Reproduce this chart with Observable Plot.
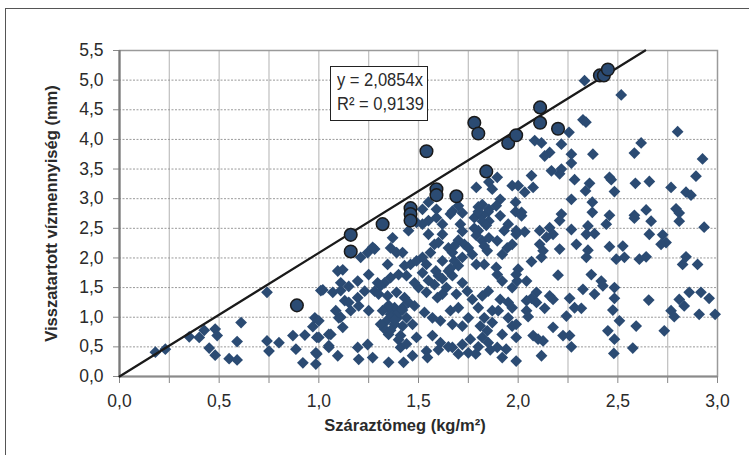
<!DOCTYPE html>
<html><head><meta charset="utf-8">
<script src="https://cdn.jsdelivr.net/npm/d3@7"></script>
<script src="https://cdn.jsdelivr.net/npm/@observablehq/plot@0.6"></script>
<style>
html,body{margin:0;padding:0;background:#fff;overflow:hidden;}
#wrap{position:relative;width:749px;height:455px;font-family:"Liberation Sans",Arial,sans-serif;color:#333;}
#frame{position:absolute;left:5px;top:8px;width:800px;height:500px;border-left:1.5px solid #555;border-top:1.5px solid #555;}
#eq{position:absolute;left:330px;top:66px;width:98px;height:55px;border:1.5px solid #222;background:#fff;box-sizing:border-box;color:#2a2a2a;white-space:nowrap;}
#eq span{position:absolute;left:6px;display:block;font-size:19px;transform:scaleX(0.87);transform-origin:left center;}
#xt{position:absolute;left:0;width:810px;top:416px;text-align:center;font-weight:bold;font-size:16.5px;color:#2a2a2a;}
</style></head>
<body><div id="wrap"><div id="frame"></div></div>
<script>
const slope = 2.0854;
const eqText = ["y = 2,0854x", "R² = 0,9139"];
const xTitle = "Száraztömeg (kg/m²)";
const yTitle = "Visszatartott vízmennyiség (mm)";
const xTicks = [0, 0.5, 1.0, 1.5, 2.0, 2.5, 3.0];
const xGrid = [0.25, 0.5, 0.75, 1.0, 1.25, 1.5, 1.75, 2.0, 2.25, 2.5, 2.75];
const xMinor = [0, 0.25, 0.5, 0.75, 1.0, 1.25, 1.5, 1.75, 2.0, 2.25, 2.5, 2.75, 3.0];
const yTicks = [0, 0.5, 1.0, 1.5, 2.0, 2.5, 3.0, 3.5, 4.0, 4.5, 5.0, 5.5];

const circled = [
[0.89,1.20],[1.16,2.39],[1.16,2.11],[1.32,2.57],[1.46,2.84],[1.46,2.74],[1.46,2.63],
[1.54,3.80],[1.59,3.16],[1.59,3.06],[1.69,3.04],[1.78,4.28],[1.80,4.10],[1.84,3.46],
[1.95,3.94],[1.99,4.07],[2.11,4.54],[2.11,4.28],[2.20,4.18],[2.41,5.08],[2.43,5.08],[2.45,5.18]
];

const diamonds = [
[0.18,0.41],[0.23,0.46],[0.35,0.67],[0.40,0.66],[0.425,0.78],[0.45,0.48],[0.48,0.80],[0.49,0.69],
[0.48,0.36],[0.55,0.30],[0.59,0.28],[0.59,0.59],[0.61,0.91],[0.74,1.42],[0.74,0.60],[0.75,0.43],
[0.80,0.57],[0.87,0.69],[0.885,0.46],[0.92,0.23],[0.93,0.70],[0.97,0.84],[0.98,0.99],[0.99,0.66],
[0.985,0.40],[0.985,0.21],[1.01,1.45],[1.05,0.49],[1.06,0.71],[1.11,1.00],[1.13,1.28],[1.11,1.45],
[1.02,1.46],[1.095,1.78],[1.12,1.80],[1.11,1.58],[1.15,1.52],[1.195,1.61],[1.21,2.01],[1.245,2.09],
[1.28,2.15],[1.25,1.72],[1.295,1.58],[1.33,1.58],[1.345,1.89],[1.37,2.34],[1.36,2.17],[1.39,2.09],
[1.42,2.09],[1.43,1.87],[1.46,1.89],[1.45,2.46],[1.49,1.95],[1.52,2.01],[1.54,1.89],[1.56,2.09],
[1.58,2.23],[1.60,2.26],[1.62,2.40],[1.55,2.40],[1.49,2.60],[1.52,2.57],[1.55,2.63],[1.59,2.68],
[1.62,2.57],[1.65,2.17],[1.67,2.09],[1.71,2.57],[1.73,2.23],[1.75,2.17],[1.78,2.68],[1.80,2.46],
[1.82,2.29],[1.845,2.12],[1.79,1.89],[1.83,1.89],[1.89,1.84],[1.91,2.71],[1.93,2.46],[1.95,2.57],
[1.99,2.46],[1.945,2.17],[1.895,1.72],[1.92,1.61],[1.97,1.50],[1.995,1.61],[1.70,1.87],[1.67,1.70],
[1.72,1.58],[1.745,1.44],[1.69,1.39],[1.62,1.39],[1.595,1.33],[1.54,1.42],[1.50,1.50],[1.48,1.58],
[1.44,1.70],[1.40,1.72],[1.36,1.67],[1.31,1.53],[1.28,1.44],[1.30,1.39],[1.345,1.36],[1.39,1.42],
[1.43,1.33],[1.45,1.25],[1.48,1.19],[1.42,1.16],[1.38,1.16],[1.345,1.16],[1.32,1.11],[1.36,1.05],
[1.395,0.99],[1.44,0.99],[1.34,0.94],[1.38,0.88],[1.42,0.85],[1.47,0.88],[1.49,0.66],[1.41,0.69],
[1.35,0.71],[1.25,1.11],[1.20,1.19],[1.16,1.11],[1.10,0.99],[1.12,0.83],[1.05,0.71],[1.00,0.66],
[0.99,0.38],[1.05,0.52],[1.095,0.35],[1.195,0.49],[1.245,0.54],[1.20,0.29],[1.27,0.32],[1.35,0.24],
[1.425,0.24],[1.47,0.35],[1.41,0.49],[1.54,0.43],[1.545,0.32],[1.57,0.69],[1.61,0.57],[1.67,0.49],
[1.70,0.38],[1.75,0.40],[1.787,0.38],[1.72,0.54],[1.76,0.63],[1.82,0.66],[1.85,0.57],[1.895,0.49],
[1.94,0.46],[1.92,0.71],[1.845,0.77],[1.81,0.85],[1.87,0.91],[1.83,0.99],[1.87,1.11],[1.80,1.16],
[1.75,0.99],[1.72,0.85],[1.67,0.88],[1.66,1.11],[1.70,1.16],[1.77,1.30],[1.82,1.36],[1.85,1.44],
[1.91,1.30],[1.95,1.25],[1.97,1.16],[1.90,1.11],[1.95,0.99],[1.97,0.85],[1.99,0.66],[1.99,0.26],
[1.92,0.32],[1.61,0.94],[1.57,0.99],[1.53,1.08],[1.65,1.78],[1.587,1.78],[1.62,1.95],[1.68,1.95],
[1.72,2.01],[1.77,2.06],[1.853,2.34],[1.895,2.29],[1.66,2.74],[1.72,2.76],[1.82,2.71],[1.853,2.62],
[1.97,2.23],[1.92,2.06],[2.00,1.81],[1.07,1.42],[1.195,1.33],[1.23,1.44],[1.085,1.11],[1.15,1.25],
[1.00,0.94],[1.27,2.18],
[1.37,1.02],[1.40,1.07],[1.38,0.96],[1.42,1.12],[1.35,1.20],[1.33,0.80],[1.36,0.78],[1.40,0.62],
[1.44,0.55],[1.31,0.88],[1.82,2.62],[1.84,2.55],[1.78,2.50],[1.79,2.38],[1.83,2.20],[1.85,2.78],
[1.80,2.86],[1.62,1.65],[1.64,1.50],[1.58,1.55],[1.60,1.70],[1.66,1.82],[1.52,1.75],[1.55,1.62],
[1.70,2.30],[1.72,2.45],[1.68,2.20],[1.60,0.45],[1.65,0.50],[1.80,0.50],[1.86,0.45],
[1.79,3.19],[1.853,3.28],[1.895,3.36],[1.97,3.22],[1.87,3.16],[1.91,2.99],[1.89,2.88],[1.82,2.90],
[1.853,2.82],[1.80,2.78],[1.55,2.94],[1.52,2.82],[1.59,2.82],[1.67,2.79],[1.70,2.88],[1.987,2.94],
[1.987,2.78],
[2.333,4.99],[2.517,4.75],[2.325,4.33],[2.34,4.29],[2.255,4.12],[2.80,4.13],[2.083,3.98],[2.117,3.94],
[2.217,3.92],[2.617,3.94],[2.158,3.78],[2.133,3.72],[2.267,3.75],[2.375,3.75],[2.583,3.77],[2.925,3.67],
[2.267,3.60],[2.167,3.47],[2.208,3.42],[2.217,3.50],[2.067,3.39],[2.075,3.19],[2.033,3.11],[2.283,3.32],
[2.358,3.26],[2.458,3.36],[2.467,3.32],[2.588,3.26],[2.658,3.29],[2.767,3.19],[2.892,3.38],[2.842,3.11],
[2.867,3.06],[2.338,3.13],[2.483,3.12],[2.267,2.99],[2.372,2.94],[2.00,3.22],[2.017,2.77],[2.217,2.74],
[2.372,2.77],[2.458,2.72],[2.642,2.81],[2.792,2.83],[2.583,2.72],
[2.017,2.71],[2.208,2.63],[2.442,2.57],[2.583,2.67],[2.667,2.62],[2.808,2.76],[2.808,2.62],[2.933,2.52],
[2.033,2.44],[1.99,2.40],[2.108,2.46],[2.158,2.51],[2.175,2.40],[2.142,2.35],[2.267,2.48],[2.35,2.54],
[2.342,2.40],[2.383,2.41],[2.292,2.23],[2.208,2.15],[2.108,2.23],[2.125,2.12],[2.117,2.01],[2.067,1.94],
[2.458,2.19],[2.35,2.13],[2.342,2.01],[2.525,2.20],[2.492,1.98],[2.533,2.01],[2.608,1.98],[2.642,2.02],
[2.658,2.40],[2.725,2.39],[2.742,2.26],[2.717,2.23],[2.842,2.02],[2.825,1.89],[2.90,1.89],[1.99,1.72],
[2.042,1.61],[2.20,1.71],[2.367,1.72],[2.417,1.61],[2.425,1.53],[2.325,1.47],[2.383,1.39],[2.483,1.50],
[2.483,1.32],[2.475,1.12],[2.508,0.94],[2.655,1.29],[2.808,1.30],[2.858,1.42],[2.917,1.42],[2.958,1.32],
[2.833,1.19],[2.767,1.11],[2.783,1.01],[2.908,1.05],[2.988,1.05],[2.733,0.77],[2.592,0.85],[2.45,0.77],
[2.483,0.63],[2.575,0.48],[2.48,0.39],[2.267,0.50],[2.258,0.69],[2.225,0.69],[2.175,0.83],[2.242,1.02],
[2.317,1.15],[2.258,1.32],[2.283,1.16],[2.175,1.30],[2.158,1.36],[2.092,1.42],[2.067,1.32],[2.042,1.28],
[2.092,1.25],[2.133,1.15],[2.042,1.11],[2.05,1.01],[2.075,0.69],[2.10,0.63],[2.125,0.60],[2.117,0.35],
[1.99,0.88]
];

const diamondColor = "#2B4B73";
const pts = diamonds.map(([x, y]) => ({x, y}));
const cpts = circled.map(([x, y]) => ({x, y}));
const fmt = d => d.toFixed(1).replace(".", ",");
const xEnd = 5.5 / slope;
const lineData = [{x: 0, y: 0}, {x: xEnd, y: slope * xEnd}];

const chart = Plot.plot({
  width: 749, height: 455,
  marginLeft: 119, marginRight: 32, marginTop: 50, marginBottom: 79,
  style: {fontFamily: "'Liberation Sans', Arial, sans-serif", fontSize: "17px", color: "#2a2a2a", background: "transparent"},
  x: {domain: [0, 3], ticks: xTicks, tickFormat: fmt},
  y: {domain: [0, 5.5], ticks: yTicks, tickFormat: fmt},
  marks: [
    Plot.ruleX(xGrid, {stroke: "#c4c4c4", strokeWidth: 1.3}),
    Plot.ruleY(yTicks.slice(1, -1), {stroke: "#9a9a9a", strokeWidth: 1, strokeDasharray: "2,1.5"}),
    Plot.frame({stroke: "#9a9a9a", strokeWidth: 1.5}),
    Plot.axisY({ticks: yTicks, tickFormat: fmt, tickSize: 6, tickPadding: 10, stroke: "#888", label: yTitle,
      labelArrow: "none", labelAnchor: "center", labelOffset: 74, fontSize: 17.5}),
    Plot.axisX({ticks: xMinor, tickFormat: () => "", tickSize: 7, stroke: "#888", label: null}),
    Plot.axisX({ticks: xTicks, tickFormat: fmt, tickSize: 0, tickPadding: 18, label: null, fontSize: 17.5}),
    Plot.ruleX([0], {stroke: "#7a7a7a", strokeWidth: 2.2}),
    Plot.ruleY([0], {stroke: "#8a8a8a", strokeWidth: 2}),
    Plot.dot(pts, {x: "x", y: "y", symbol: "diamond2", r: 5.3, fill: diamondColor, stroke: "none"}),
    Plot.line(lineData, {x: "x", y: "y", stroke: "#1a1a1a", strokeWidth: 2.2}),
    Plot.dot(cpts, {x: "x", y: "y", r: 6.3, fill: diamondColor, stroke: "#1a1a1a", strokeWidth: 1.5})
  ]
});
const wrap = document.getElementById("wrap");
wrap.appendChild(chart);
chart.style.position = "absolute"; chart.style.left = "0"; chart.style.top = "0";
chart.querySelectorAll("[aria-label='y-axis label'] text").forEach(t => {
  t.style.fontWeight = "bold"; t.style.fontSize = "16.5px"; t.style.fill = "#2a2a2a";
  t.textContent = t.textContent.replace(/[\u2191\u2192\u2193\u2190]\s*/g, "").trim();
});
const eq = document.createElement("div"); eq.id = "eq";
eqText.forEach((s, i) => {
  const sp = document.createElement("span"); sp.textContent = s; sp.style.top = (i === 0 ? 2 : 26) + "px"; eq.appendChild(sp);
});
wrap.appendChild(eq);
const xt = document.createElement("div"); xt.id = "xt"; xt.textContent = xTitle;
wrap.appendChild(xt);
</script></body></html>
